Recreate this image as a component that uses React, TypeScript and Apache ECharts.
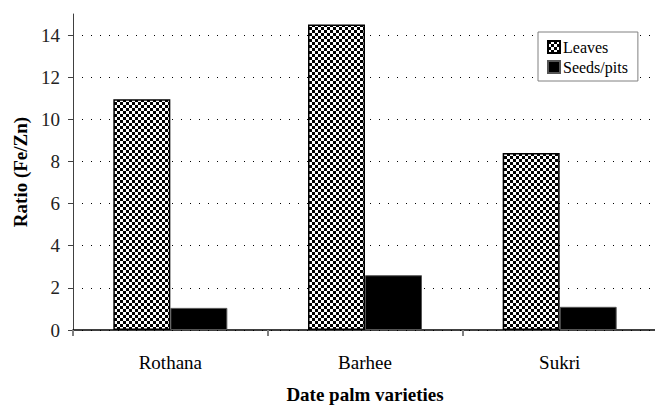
import React, { useEffect, useRef } from "react";
import * as echarts from "echarts";

const categories = ["Rothana", "Barhee", "Sukri"];
const leaves = [10.95, 14.5, 8.4];
const seeds = [1.05, 2.6, 1.1];
const yTicks = [0, 2, 4, 6, 8, 10, 12, 14];
const seriesNames = ["Leaves", "Seeds/pits"];

function checker(): string {
  const c = document.createElement("canvas");
  const s = 3;
  c.width = s * 2;
  c.height = s * 2;
  const ctx = c.getContext("2d")!;
  ctx.fillStyle = "#fff";
  ctx.fillRect(0, 0, s * 2, s * 2);
  ctx.fillStyle = "#000";
  ctx.fillRect(0, 0, s, s);
  ctx.fillRect(s, s, s, s);
  return c.toDataURL();
}

export default function App() {
  const ref = useRef<HTMLDivElement>(null);
  useEffect(() => {
    if (!ref.current) return;
    const chart = echarts.init(ref.current, undefined, { renderer: "svg" });
    const font = "'Liberation Serif', 'Times New Roman', serif";
    const pattern = { image: checker(), repeat: "repeat" };
    chart.setOption({
      animation: false,
      textStyle: { fontFamily: font, color: "#000" },
      grid: { left: 73, top: 14, width: 584, height: 316, outerBoundsMode: "none", containLabel: false },
      legend: {
        orient: "vertical",
        left: 538,
        top: 32,
        width: 100,
        padding: [7, 10, 6, 9],
        itemGap: 4,
        itemWidth: 12,
        itemHeight: 12,
        borderColor: "#808080",
        borderWidth: 1,
        backgroundColor: "#fff",
        icon: "rect",
        textStyle: { fontFamily: font, fontSize: 16, color: "#000", padding: [0, 0, 0, -2] },
        data: seriesNames,
      },
      xAxis: {
        type: "category",
        data: categories,
        boundaryGap: true,
        name: "Date palm varieties",
        nameLocation: "middle",
        nameGap: 55,
        nameTextStyle: { fontFamily: font, fontSize: 19, fontWeight: "bold", color: "#000" },
        axisLine: { lineStyle: { color: "#000", width: 1.5 } },
        axisTick: { show: true, length: 6, lineStyle: { color: "#808080", width: 2 } },
        axisLabel: { fontFamily: font, fontSize: 19, color: "#000", margin: 23 },
      },
      yAxis: {
        type: "value",
        min: 0,
        max: 15,
        interval: 2,
        name: "Ratio (Fe/Zn)",
        nameLocation: "middle",
        nameGap: 43,
        nameRotate: 90,
        nameTextStyle: { fontFamily: font, fontSize: 19, fontWeight: "bold", color: "#000" },
        axisLine: { show: true, lineStyle: { color: "#404040", width: 1 } },
        axisTick: { show: true, length: 5, customValues: yTicks, lineStyle: { color: "#404040" } },
        axisLabel: { fontFamily: font, fontSize: 19, color: "#222", margin: 13, customValues: yTicks },
        splitLine: { show: true, lineStyle: { color: "#000", type: [1, 8], width: 1 } },
      },
      series: [
        {
          name: seriesNames[0],
          type: "bar",
          data: leaves,
          barWidth: 57,
          barGap: "0%",
          itemStyle: { color: pattern, borderColor: "#000", borderWidth: 1.5 },
        },
        {
          name: seriesNames[1],
          type: "bar",
          data: seeds,
          barWidth: 57,
          barGap: "0%",
          itemStyle: { color: "#000", borderColor: "#555", borderWidth: 1 },
        },
      ],
    });
    return () => chart.dispose();
  }, []);
  return <div ref={ref} style={{ width: 655, height: 406, position: "absolute", left: 0, top: 0 }} />;
}
